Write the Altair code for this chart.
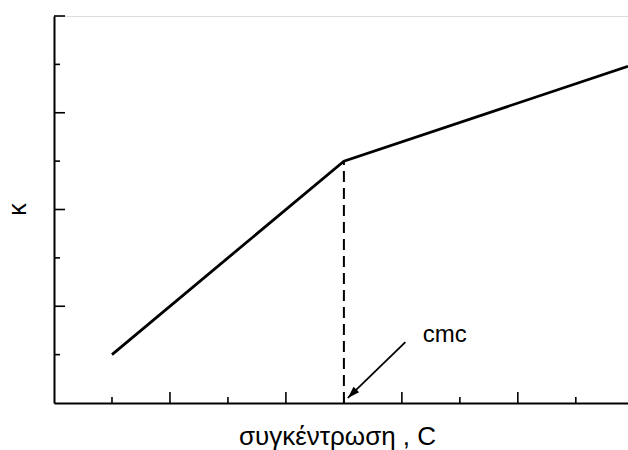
import altair as alt
import pandas as pd

# Conductivity curve (κ vs concentration), break at the cmc
curve_x = [0.5, 2.5, 4.95]
curve_y = [0.5, 2.5, 3.48]

cmc_x = [2.5]
cmc_y = [2.5]

# annotation arrow (start -> tip) and label
arrow_x = [3.03]
arrow_y = [0.63]
arrow_x2 = [2.534]
arrow_y2 = [0.052]
label_x = [3.18]
label_y = [0.70]
label_text = ["cmc"]

# inward ticks
x_major = [1, 2, 3, 4]
x_minor = [0.5, 1.5, 2.5, 3.5, 4.5]
y_major = [1, 2, 3, 4]
y_minor = [0.5, 1.5, 2.5, 3.5]

W, H = 574, 387
FONT = "Liberation Sans"

xs = alt.Scale(domain=[0, 4.95], nice=False, zero=False)
ys = alt.Scale(domain=[0, 4], nice=False, zero=False)

curve = pd.DataFrame({"x": curve_x, "y": curve_y})
cmc = pd.DataFrame({"x": cmc_x, "y": cmc_y, "y0": [0]})
arrow = pd.DataFrame({"x": arrow_x, "y": arrow_y, "x2": arrow_x2, "y2": arrow_y2})
label = pd.DataFrame({"x": label_x, "y": label_y, "t": label_text})

x_axis = alt.Axis(labels=False, ticks=False, grid=False, domainColor="black", domainWidth=2,
                  title="συγκέντρωση , C", titleFont=FONT, titleFontSize=26,
                  titleFontWeight="normal", titleColor="black",
                  titleX=283, titleY=41, titleAlign="center", titleBaseline="alphabetic")
y_axis = alt.Axis(labels=False, ticks=False, grid=False, domainColor="black", domainWidth=2,
                  title="κ", titleFont=FONT, titleFontSize=25, titleFontWeight="normal",
                  titleColor="black", titleX=-37, titleY=193, titleAlign="center",
                  titleBaseline="middle", titleAngle=-90)

line = alt.Chart(curve).mark_line(color="black", strokeWidth=2.8).encode(
    x=alt.X("x:Q", scale=xs, axis=x_axis),
    y=alt.Y("y:Q", scale=ys, axis=y_axis),
)

dash = alt.Chart(cmc).mark_rule(color="black", strokeWidth=2, strokeDash=[11, 6]).encode(
    x=alt.X("x:Q", scale=xs), y=alt.Y("y0:Q", scale=ys), y2="y:Q"
)

shaft = alt.Chart(arrow).mark_rule(color="black", strokeWidth=1.8).encode(
    x=alt.X("x:Q", scale=xs), y=alt.Y("y:Q", scale=ys), x2="x2:Q", y2="y2:Q"
)

head = alt.Chart(arrow).mark_point(
    shape="M0,0 L-0.8,2.4 L0.8,2.4 Z", filled=True, fill="black", color="black",
    opacity=1, size=100, angle=225, strokeWidth=0
).encode(x=alt.X("x2:Q", scale=xs), y=alt.Y("y2:Q", scale=ys))

text = alt.Chart(label).mark_text(font=FONT, fontSize=24, align="left", baseline="middle",
                                  color="black").encode(
    x=alt.X("x:Q", scale=xs), y=alt.Y("y:Q", scale=ys), text="t:N"
)

def xt(vals, ln):
    return alt.Chart(pd.DataFrame({"v": vals})).mark_rule(color="black", strokeWidth=1.6).encode(
        x=alt.X("v:Q", scale=xs), y=alt.value(H), y2=alt.value(H - ln))

def yt(vals, ln):
    return alt.Chart(pd.DataFrame({"v": vals})).mark_rule(color="black", strokeWidth=1.6).encode(
        y=alt.Y("v:Q", scale=ys), x=alt.value(0), x2=alt.value(ln))

chart = alt.layer(
    line, dash, shaft, head, text,
    xt(x_major, 11), xt(x_minor, 6), yt(y_major, 11), yt(y_minor, 6)
).properties(
    width=W, height=H,
    autosize=alt.AutoSizeParams(type="none"),
    padding={"left": 54, "top": 16, "right": 0, "bottom": 47},
).configure_view(stroke=None).configure(background="white")

chart.save("out.html", embed_options={"renderer": "svg", "actions": False})
